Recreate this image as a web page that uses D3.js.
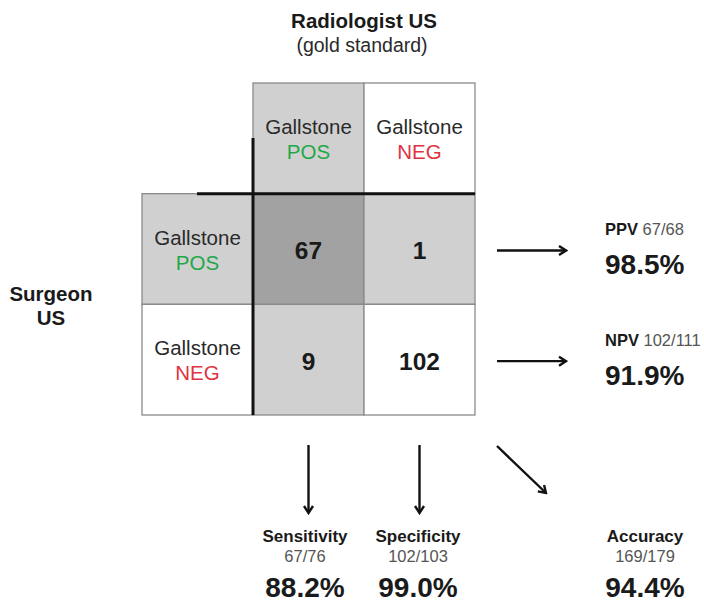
<!DOCTYPE html>
<html><head><meta charset="utf-8">
<script src="https://cdn.jsdelivr.net/npm/d3@7"></script>
<style>html,body{margin:0;padding:0;background:#fff;}svg{display:block;}</style>
</head><body>
<script>
// ---- data ----
const classes = ["POS", "NEG"];
const counts = [[67, 1], [9, 102]];           // rows: surgeon, cols: radiologist
const rightMetrics = ["PPV", "NPV"];
const rightFractions = ["67/68", "102/111"];
const rightValues = ["98.5%", "91.9%"];
const bottomMetrics = ["Sensitivity", "Specificity", "Accuracy"];
const bottomFractions = ["67/76", "102/103", "169/179"];
const bottomValues = ["88.2%", "99.0%", "94.4%"];
const titleText = "Radiologist US";
const subtitleText = "(gold standard)";
const rowTitle = ["Surgeon", "US"];
const stoneWord = "Gallstone";

const W = 704, H = 602;
const FONT = "'Liberation Sans', Arial, Helvetica, sans-serif";
const svg = d3.select("body").append("svg").attr("width", W).attr("height", H)
  .style("font-family", FONT);

const defs = svg.append("defs");
defs.append("marker").attr("id", "ah").attr("viewBox", "0 0 12 12")
  .attr("refX", 10).attr("refY", 6).attr("markerWidth", 12).attr("markerHeight", 12)
  .attr("markerUnits", "userSpaceOnUse").attr("orient", "auto")
  .append("path").attr("d", "M3,1.5 L10,6 L3,10.5").attr("fill", "none")
  .attr("stroke", "#111").attr("stroke-width", 2.4);

const x = d3.scaleBand().domain(["label", ...classes]).range([142, 475]);
const y = d3.scaleBand().domain(["header", ...classes]).range([83, 415]);
const bw = x.bandwidth(), bh = y.bandwidth();

const LIGHT = "#d0d0d0", DARK = "#a2a2a2", BORDER = "#8a8a8a";
const colorOf = { POS: "#1fa84a", NEG: "#e0323f" };

const g = svg.append("g");
// header cells
classes.forEach(c => {
  g.append("rect").attr("x", x(c)).attr("y", y("header")).attr("width", bw).attr("height", bh)
    .attr("fill", c === "POS" ? LIGHT : "#fff").attr("stroke", BORDER).attr("stroke-width", 1.3);
});
// row label cells
classes.forEach(r => {
  g.append("rect").attr("x", x("label")).attr("y", y(r)).attr("width", bw).attr("height", bh)
    .attr("fill", r === "POS" ? LIGHT : "#fff").attr("stroke", BORDER).attr("stroke-width", 1.3);
});
// count cells
classes.forEach((r, i) => classes.forEach((c, j) => {
  const fill = (r === "POS" && c === "POS") ? DARK : (r === "POS" || c === "POS") ? LIGHT : "#fff";
  g.append("rect").attr("x", x(c)).attr("y", y(r)).attr("width", bw).attr("height", bh)
    .attr("fill", fill).attr("stroke", BORDER).attr("stroke-width", 1.3);
  g.append("text").attr("x", x(c) + bw / 2).attr("y", y(r) + bh / 2 + 10)
    .attr("text-anchor", "middle").attr("font-weight", "bold").attr("font-size", 24.5)
    .attr("fill", "#1a1a1a").text(counts[i][j]);
}));

function labelPair(cx, top, cls) {
  g.append("text").attr("x", cx).attr("y", top + 51).attr("text-anchor", "middle")
    .attr("font-size", 20.5).attr("fill", "#2a2a2a").text(stoneWord);
  g.append("text").attr("x", cx).attr("y", top + 76).attr("text-anchor", "middle")
    .attr("font-size", 20.5).attr("fill", colorOf[cls]).text(cls);
}
classes.forEach(c => labelPair(x(c) + bw / 2, y("header"), c));
classes.forEach(r => labelPair(x("label") + bw / 2, y(r), r));

// thick separators
g.append("line").attr("x1", 197).attr("x2", x("NEG") + bw).attr("y1", y("POS")).attr("y2", y("POS"))
  .attr("stroke", "#111").attr("stroke-width", 3);
g.append("line").attr("x1", x("POS")).attr("x2", x("POS")).attr("y1", 138).attr("y2", y("NEG") + bh)
  .attr("stroke", "#111").attr("stroke-width", 3);

// titles
svg.append("text").attr("x", 364).attr("y", 28).attr("text-anchor", "middle")
  .attr("font-weight", "bold").attr("font-size", 20.5).attr("fill", "#1a1a1a").text(titleText);
svg.append("text").attr("x", 362).attr("y", 52).attr("text-anchor", "middle")
  .attr("font-size", 19.5).attr("fill", "#2a2a2a").text(subtitleText);
rowTitle.forEach((t, i) => svg.append("text").attr("x", 51).attr("y", 301 + i * 24)
  .attr("text-anchor", "middle").attr("font-weight", "bold").attr("font-size", 20.5)
  .attr("fill", "#1a1a1a").text(t));

// arrows
function arrow(x1, y1, x2, y2) {
  svg.append("line").attr("x1", x1).attr("y1", y1).attr("x2", x2).attr("y2", y2)
    .attr("stroke", "#111").attr("stroke-width", 2.4).attr("marker-end", "url(#ah)");
}
classes.forEach(r => arrow(497, y(r) + bh / 2 + 1.5, 566, y(r) + bh / 2 + 1.5));
arrow(x("POS") + bw / 2, 445, x("POS") + bw / 2, 513);
arrow(x("NEG") + bw / 2, 445, x("NEG") + bw / 2, 513);
arrow(497, 446, 546, 493);

// right metrics
rightMetrics.forEach((m, i) => {
  const cy = y(classes[i]) + bh / 2;
  const t = svg.append("text").attr("x", 605).attr("y", cy - 14).attr("font-size", 16.5).attr("fill", "#1a1a1a");
  t.append("tspan").attr("font-weight", "bold").text(m);
  t.append("tspan").attr("fill", "#555").text(" " + rightFractions[i]);
  svg.append("text").attr("x", 605).attr("y", cy + 25).attr("font-size", 28).attr("font-weight", "bold")
    .attr("fill", "#1a1a1a").text(rightValues[i]);
});

// bottom metrics
const bx = [305, 418, 645];
bottomMetrics.forEach((m, i) => {
  svg.append("text").attr("x", bx[i]).attr("y", 542).attr("text-anchor", "middle")
    .attr("font-size", 17).attr("font-weight", "bold").attr("fill", "#1a1a1a").text(m);
  svg.append("text").attr("x", bx[i]).attr("y", 562).attr("text-anchor", "middle")
    .attr("font-size", 16.5).attr("fill", "#555").text(bottomFractions[i]);
  svg.append("text").attr("x", bx[i]).attr("y", 597).attr("text-anchor", "middle")
    .attr("font-size", 28).attr("font-weight", "bold").attr("fill", "#1a1a1a").text(bottomValues[i]);
});
</script>
</body></html>
